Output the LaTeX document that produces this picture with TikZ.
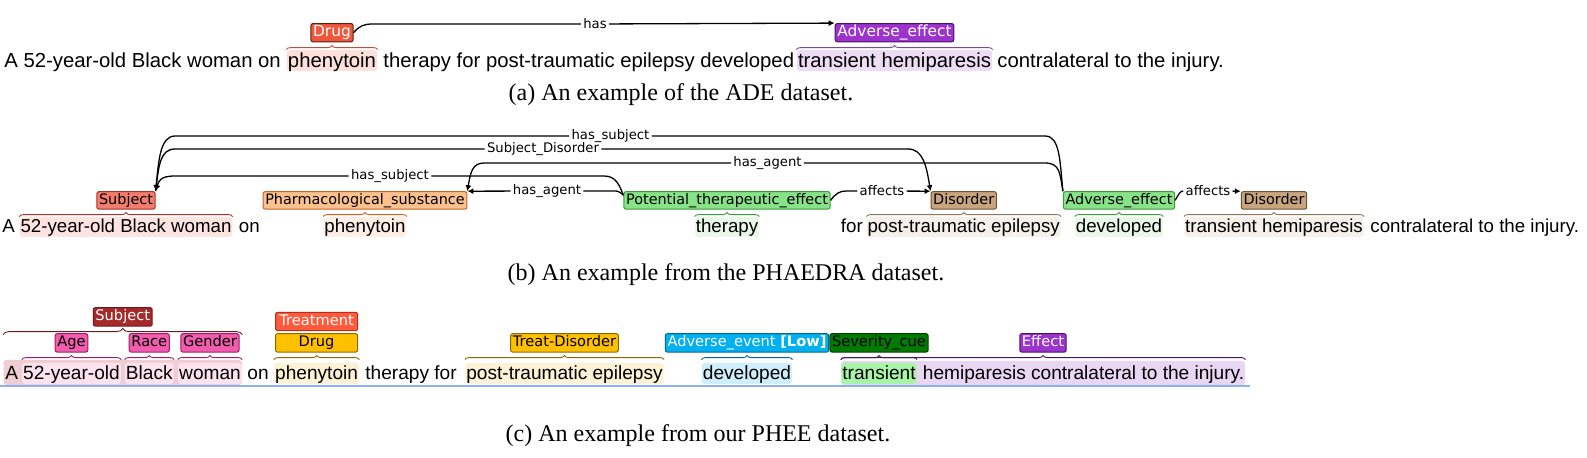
\documentclass[tikz,border=0pt]{standalone}
\usepackage{fontspec}
\usetikzlibrary{arrows.meta,positioning,decorations.pathreplacing}
\newfontfamily\sentfont{Liberation Sans}
\newfontfamily\lblfont{DejaVu Sans}
\newfontfamily\capfont{Liberation Serif}
% colours of panel (a)
\definecolor{cDrugA}{HTML}{F0583C}
\definecolor{cDrugAD}{HTML}{5A1E12}
\definecolor{cDrugAB}{HTML}{B5543F}
\definecolor{cAeA}{HTML}{9B33CC}
\definecolor{cAeAD}{HTML}{4A1466}
\definecolor{cAeAB}{HTML}{7A4A9A}
\definecolor{hlDrugA}{HTML}{FDDFDB}
\definecolor{hlAeA}{HTML}{ECDDF5}
% colours of panel (b)
\definecolor{cSubjB}{HTML}{F27D6E}
\definecolor{cSubjBD}{HTML}{A83228}
\definecolor{cPharmB}{HTML}{FBC290}
\definecolor{cPharmBD}{HTML}{C76420}
\definecolor{cGreenB}{HTML}{88E388}
\definecolor{cGreenBD}{HTML}{3B9B3B}
\definecolor{cTanB}{HTML}{C9A57F}
\definecolor{cTanBD}{HTML}{6E5232}
\definecolor{hlSubjB}{HTML}{FDE4E1}
\definecolor{hlPharmB}{HTML}{FEEEE5}
\definecolor{hlGreenB}{HTML}{EAF8E9}
\definecolor{hlTanB}{HTML}{F5F0EA}
% colours of panel (c)
\definecolor{cSubjC}{HTML}{A52A2A}
\definecolor{cSubjCD}{HTML}{6E1A1A}
\definecolor{cPinkC}{HTML}{F25CAE}
\definecolor{cPinkCD}{HTML}{A01C64}
\definecolor{cTreatC}{HTML}{FF5A3C}
\definecolor{cTreatCD}{HTML}{B03020}
\definecolor{cDrugC}{HTML}{FFC000}
\definecolor{cDrugCD}{HTML}{8A6A00}
\definecolor{cAeC}{HTML}{00B0F0}
\definecolor{cAeCD}{HTML}{006B90}
\definecolor{cSevC}{HTML}{007A00}
\definecolor{cSevCD}{HTML}{004000}
\definecolor{cEffC}{HTML}{9B33CC}
\definecolor{cEffCD}{HTML}{4A1466}
\definecolor{hlSubjC}{HTML}{F0CDD3}
\definecolor{hlPinkC}{HTML}{FCE2EC}
\definecolor{hlCreamC}{HTML}{FDF1D6}
\definecolor{hlBlueC}{HTML}{CDEEFA}
\definecolor{hlGreenC}{HTML}{A8F5A8}
\definecolor{hlEffC}{HTML}{E8D6F2}
\definecolor{cLine}{HTML}{8AB0F5}

\begin{document}
\begin{tikzpicture}[x=0.5pt, y=-0.5pt,
  txtA/.style={anchor=base west, inner sep=0pt, font=\sentfont\fontsize{10.15}{12}\selectfont},
  txtB/.style={txtA, font=\sentfont\fontsize{9.35}{11}\selectfont},
  txtC/.style={txtA, font=\sentfont\fontsize{9.55}{11}\selectfont},
  spanA/.style={anchor=base, rounded corners=1.5pt, inner xsep=0.6pt, inner ysep=0pt,
    text height=8.75pt, text depth=1.75pt, font=\sentfont\fontsize{10.15}{12}\selectfont},
  spanB/.style={spanA, inner xsep=0.4pt, text height=8pt, text depth=2pt,
    font=\sentfont\fontsize{9.35}{11}\selectfont},
  spanC/.style={spanA, inner xsep=0.5pt, text height=8.5pt, text depth=2pt,
    font=\sentfont\fontsize{9.55}{11}\selectfont},
  hlbox/.style={rounded corners=1.5pt, inner sep=0pt},
  lblA/.style={draw, rounded corners=1pt, line width=0.5pt, inner xsep=1.1pt, inner ysep=0.9pt,
    text height=5.7pt, text depth=1.6pt, font=\lblfont\fontsize{7.7}{9}\selectfont},
  lblB/.style={lblA, text height=5.4pt, text depth=1.5pt, font=\lblfont\fontsize{7.2}{9}\selectfont},
  lblC/.style={lblA, inner ysep=1pt, text height=5.6pt, text depth=1.6pt,
    font=\lblfont\fontsize{7.3}{9}\selectfont},
  rl/.style={inner xsep=1pt, inner ysep=0.5pt, font=\lblfont\fontsize{6.6}{8}\selectfont},
  rel/.style={draw, line width=0.65pt},
  arr/.style={-{Latex[length=3pt,width=3pt]}},
  brc/.style={decorate, decoration={brace, amplitude=2pt}, line width=0.45pt},
  capt/.style={anchor=base, inner sep=0pt, font=\capfont\fontsize{12}{14}\selectfont}
]
\useasboundingbox (0,0) rectangle (1587,458);

% (a) ADE
\node[txtA] (a1) at (4,67.5) {A 52-year-old Black woman on};
\node[spanA, fill=hlDrugA] (phA) at (332,67.5) {phenytoin};
\node[txtA] (a2) at (383,67.5) {therapy for post-traumatic epilepsy developed};
\node[spanA, fill=hlAeA] (thA) at (894.5,67.5) {transient hemiparesis};
\node[txtA] (a3) at (997,67.5) {contralateral to the injury.};

\draw[brc, draw=cDrugAB] (phA.north west) -- (phA.north east);
\draw[brc, draw=cAeAB] (thA.north west) -- (thA.north east);

\node[lblA, fill=cDrugA, draw=cDrugAD, text=white, above=3.65pt of phA] (drugA) {Drug};
\node[lblA, fill=cAeA, draw=cAeAD, text=white, above=3.65pt of thA] (aeA) {Adverse\_effect};

\node[rl] (hasA) at (595,24) {has};
\draw[rel] (drugA.east) .. controls +(6,-7) and +(-9,0) .. (373,24) -- (hasA);
\draw[rel, arr] (hasA) -- (aeA.north west);

\node[capt] (capA) at (681,100.5) {(a) An example of the ADE dataset.};

% (b) PHAEDRA
\node[txtB] (b0) at (2,233) {A};
\node[spanB, fill=hlSubjB] (sbB) at (126,233) {52-year-old Black woman};
\node[txtB] (b1) at (238.5,233) {on};
\node[spanB, fill=hlPharmB] (phB) at (365,233) {phenytoin};
\node[spanB, fill=hlGreenB] (thB) at (727,233) {therapy};
\node[txtB] (b2) at (840.5,233) {for};
\node[spanB, fill=hlTanB] (ptB) at (963.7,233) {post-traumatic epilepsy};
\node[spanB, fill=hlGreenB] (dvB) at (1119,233) {developed};
\node[spanB, fill=hlTanB] (tvB) at (1274,233) {transient hemiparesis};
\node[txtB] (b3) at (1370,233) {contralateral to the injury.};

\draw[brc, draw=cSubjBD] (sbB.north west) -- (sbB.north east);
\draw[brc, draw=cPharmBD] (phB.north west) -- (phB.north east);
\draw[brc, draw=cGreenBD] (thB.north west) -- (thB.north east);
\draw[brc, draw=cTanBD!80] (ptB.north west) -- (ptB.north east);
\draw[brc, draw=cGreenBD] (dvB.north west) -- (dvB.north east);
\draw[brc, draw=cTanBD!80] (tvB.north west) -- (tvB.north east);

\node[lblB, fill=cSubjB, draw=cSubjBD, above=3.5pt of sbB] (subjB) {Subject};
\node[lblB, fill=cPharmB, draw=cPharmBD, above=3.5pt of phB] (pharmB) {Pharmacological\_substance};
\node[lblB, fill=cGreenB, draw=cGreenBD, above=3.5pt of thB] (pteB) {Potential\_therapeutic\_effect};
\node[lblB, fill=cTanB, draw=cTanBD, above=3.5pt of ptB] (disB) {Disorder};
\node[lblB, fill=cGreenB, draw=cGreenBD, above=3.5pt of dvB] (aeB) {Adverse\_effect};
\node[lblB, fill=cTanB, draw=cTanBD, above=3.5pt of tvB] (dis2B) {Disorder};

\node[rl] (hsTop) at (610.5,136) {has\_subject};
\node[rl] (sdB) at (543,149) {Subject\_Disorder};
\node[rl] (haLong) at (767.5,163) {has\_agent};
\node[rl] (hsLow) at (390,176) {has\_subject};
\node[rl] (haShort) at (547,191) {has\_agent};
\node[rl] (afB) at (882,191) {affects};
\node[rl] (af2B) at (1208,191) {affects};

\draw[rel] (aeB.north west) .. controls +(-3,-30) and +(15,0) .. (1045,136) -- (hsTop);
\draw[rel, arr] (hsTop) -- (175,136) .. controls +(-15,0) and +(3,-30) .. (subjB.north east);
\draw[rel] (subjB.north east) .. controls +(3,-25) and +(-15,0) .. (175,149) -- (sdB);
\draw[rel, arr] (sdB) -- (908,149) .. controls +(15,0) and +(-4,-25) .. (disB.north west);
\draw[rel] (aeB.north west) .. controls +(-3,-18) and +(15,0) .. (1045,163) -- (haLong);
\draw[rel, arr] (haLong) -- (484,163) .. controls +(-12,0) and +(3,-18) .. (pharmB.north east);
\draw[rel] ([yshift=-2pt]pteB.north west) .. controls +(-4,-10) and +(12,0) .. (604,176) -- (hsLow);
\draw[rel, arr] (hsLow) -- (175,176) .. controls +(-15,0) and +(3,-10) .. (subjB.north east);
\draw[rel] ([yshift=-2pt]pteB.north west) .. controls +(-6,-5) and +(8,0) .. (610,191) -- (haShort);
\draw[rel, arr] (haShort) -- (pharmB.north east);
\draw[rel] (pteB.east) .. controls +(5,-7) and +(-6,0) .. (846,191) -- (afB);
\draw[rel, arr] (afB) -- (disB.north west);
\draw[rel] (aeB.east) .. controls +(4,-7) and +(-3,0) .. (af2B.west);
\draw[rel, arr] (af2B) -- (dis2B.north west);

\node[capt] (capB) at (726,281) {(b) An example from the PHAEDRA dataset.};

% (c) PHEE
\node[hlbox, fill=hlSubjC, minimum width=119.25pt, minimum height=12.5pt] (sbC) at (122.75,372.5) {};
\node[hlbox, fill=hlEffC, minimum width=202pt, minimum height=12pt] (efS) at (1043,373) {};
\node[txtC] (c0) at (5,380) {A};
\node[spanC, fill=hlPinkC] (ageS) at (71.5,380) {52-year-old};
\node[spanC, fill=hlPinkC] (raceS) at (149.3,380) {Black};
\node[spanC, fill=hlPinkC] (genS) at (210,380) {woman};
\node[txtC] (c1) at (247,380) {on};
\node[spanC, fill=hlCreamC] (phC) at (316.6,380) {phenytoin};
\node[txtC] (c2) at (365,380) {therapy for};
\node[spanC, fill=hlCreamC] (ptC) at (564.5,380) {post-traumatic epilepsy};
\node[spanC, fill=hlBlueC] (dvC) at (747,380) {developed};
\node[spanC, fill=hlGreenC] (trC) at (879,380) {transient};
\node[txtC] (c3) at (922.5,380) {hemiparesis contralateral to the injury.};

\draw[cLine, line width=0.6pt] (0,386) -- (1250,386);

\draw[brc, draw=cSubjCD, decoration={amplitude=3pt, raise=12.5pt}] (sbC.north west) -- (sbC.north east);
\draw[brc, draw=cPinkCD, decoration={raise=1.5pt}] (ageS.north west) -- (ageS.north east);
\draw[brc, draw=cPinkCD, decoration={raise=1.5pt}] (raceS.north west) -- (raceS.north east);
\draw[brc, draw=cPinkCD, decoration={raise=1.5pt}] (genS.north west) -- (genS.north east);
\draw[brc, draw=cDrugCD, decoration={raise=1.5pt}] (phC.north west) -- (phC.north east);
\draw[brc, draw=cDrugCD, decoration={raise=1.5pt}] (ptC.north west) -- (ptC.north east);
\draw[brc, draw=cAeCD, decoration={raise=1.5pt}] (dvC.north west) -- (dvC.north east);
\draw[brc, draw=cSevCD, decoration={raise=1.5pt}] (trC.north west) -- (trC.north east);
\draw[brc, draw=cEffCD, decoration={raise=0.5pt}] (efS.north west) -- (efS.north east);

\node[lblC, fill=cPinkC, draw=cPinkCD, above=5pt of ageS] (age) {Age};
\node[lblC, fill=cPinkC, draw=cPinkCD, above=5pt of raceS] (race) {Race};
\node[lblC, fill=cPinkC, draw=cPinkCD, above=5pt of genS] (gender) {Gender};
\node[lblC, fill=cSubjC, draw=cSubjCD, text=white, above=16.5pt of sbC] (subjC) {Subject};
\node[lblC, fill=cDrugC, draw=cDrugCD, minimum width=41pt, above=5pt of phC] (drugC) {Drug};
\node[lblC, fill=cTreatC, draw=cTreatCD, text=white, minimum width=41pt, above=1pt of drugC] (treatC) {Treatment};
\node[lblC, fill=cDrugC, draw=cDrugCD, above=5pt of ptC] (tdC) {Treat-Disorder};
\node[lblC, fill=cAeC, draw=cAeCD, text=white, above=5pt of dvC] (aeC) {Adverse\_event \textbf{[Low]}};
\node[lblC, fill=cSevC, draw=cSevCD, above=5pt of trC] (sevC) {Severity\_cue};
\node[lblC, fill=cEffC, draw=cEffCD, text=white, above=4pt of efS] (effC) {Effect};

\node[capt] (capC) at (698,442) {(c) An example from our PHEE dataset.};
\end{tikzpicture}
\end{document}
